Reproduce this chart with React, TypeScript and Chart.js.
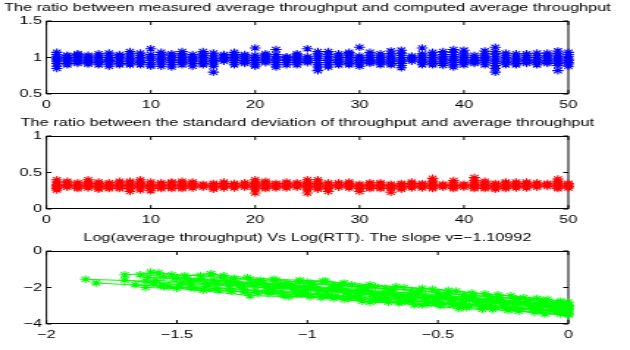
import React, { useEffect, useRef } from "react";
import { Chart, registerables } from "chart.js";

Chart.register(...registerables);

// ---------- data ----------
const runs = [
  1, 2, 3, 4, 5, 6, 7, 8, 9, 10, 11, 12, 13, 14, 15, 16, 17, 18, 19, 20, 21, 22, 23, 24, 25,
  26, 27, 28, 29, 30, 31, 32, 33, 34, 35, 36, 37, 38, 39, 40, 41, 42, 43, 44, 45, 46, 47, 48, 49, 50,
];

const measuredRatio: number[][] = [
  [0.85, 0.88, 0.92, 0.95, 0.97, 0.99, 1.01, 1.04, 1.07],
  [0.9, 0.92, 0.95, 0.97, 0.99, 1.0, 1.02, 1.03],
  [0.92, 0.94, 0.96, 0.98, 1.0, 1.02, 1.04, 1.05],
  [0.91, 0.93, 0.95, 0.97, 0.99, 1.01, 1.03],
  [0.9, 0.93, 0.95, 0.97, 1.0, 1.02, 1.05],
  [0.88, 0.91, 0.94, 0.96, 0.98, 1.0, 1.03, 1.06],
  [0.9, 0.92, 0.95, 0.98, 1.0, 1.02, 1.04],
  [0.9, 0.92, 0.95, 0.97, 0.99, 1.02, 1.05, 1.08],
  [0.9, 0.93, 0.95, 0.98, 1.0, 1.03, 1.06],
  [0.88, 0.9, 0.93, 0.96, 0.99, 1.01, 1.04, 1.12],
  [0.88, 0.91, 0.94, 0.97, 0.99, 1.02, 1.04, 1.07],
  [0.87, 0.9, 0.93, 0.96, 0.98, 1.0, 1.03, 1.05],
  [0.9, 0.93, 0.95, 0.97, 1.0, 1.02, 1.05, 1.08],
  [0.88, 0.92, 0.95, 0.97, 0.99, 1.01, 1.04],
  [0.9, 0.92, 0.95, 0.98, 1.0, 1.03, 1.05, 1.08],
  [0.8, 0.88, 0.91, 0.94, 0.96, 0.99, 1.02, 1.06],
  [0.95, 0.97, 0.99, 1.0, 1.02, 1.04],
  [0.9, 0.93, 0.96, 0.98, 1.0, 1.02, 1.04, 1.07],
  [0.92, 0.94, 0.96, 0.99, 1.01, 1.02, 1.04],
  [0.88, 0.9, 0.93, 0.96, 0.98, 1.0, 1.03, 1.13],
  [0.93, 0.95, 0.97, 0.99, 1.01, 1.03, 1.05],
  [0.87, 0.9, 0.93, 0.96, 0.98, 1.01, 1.04, 1.11],
  [0.9, 0.93, 0.96, 0.98, 1.0, 1.01],
  [0.9, 0.93, 0.95, 0.97, 0.99, 1.01, 1.03, 1.05],
  [0.93, 0.95, 0.97, 0.99, 1.01, 1.12],
  [0.82, 0.87, 0.9, 0.93, 0.96, 0.99, 1.02, 1.05, 1.08],
  [0.87, 0.9, 0.93, 0.96, 0.98, 1.01, 1.04, 1.08],
  [0.9, 0.93, 0.95, 0.97, 1.0, 1.02, 1.05],
  [0.9, 0.92, 0.95, 0.98, 1.0, 1.03, 1.05, 1.07],
  [0.88, 0.91, 0.93, 0.96, 0.98, 1.0, 1.02, 1.14],
  [0.92, 0.94, 0.96, 0.98, 1.0, 1.03, 1.07],
  [0.9, 0.93, 0.95, 0.97, 1.0, 1.02, 1.05],
  [0.9, 0.92, 0.95, 0.97, 0.99, 1.02, 1.05, 1.09],
  [0.86, 0.89, 0.92, 0.95, 0.97, 1.0, 1.03, 1.06, 1.1],
  [0.95, 0.97, 0.99, 1.0, 1.02],
  [0.9, 0.93, 0.95, 0.97, 1.0, 1.02, 1.05, 1.13],
  [0.9, 0.92, 0.95, 0.98, 1.0, 1.03, 1.07],
  [0.89, 0.92, 0.94, 0.97, 0.99, 1.01, 1.04, 1.08],
  [0.87, 0.9, 0.93, 0.96, 0.98, 1.01, 1.04, 1.07, 1.11],
  [0.9, 0.93, 0.95, 0.97, 1.0, 1.02, 1.05, 1.1],
  [0.92, 0.94, 0.96, 0.98, 1.0, 1.03],
  [0.9, 0.93, 0.96, 0.98, 1.0, 1.02, 1.05, 1.09],
  [0.8, 0.85, 0.89, 0.92, 0.95, 0.98, 1.01, 1.05, 1.08, 1.14],
  [0.9, 0.93, 0.95, 0.98, 1.0, 1.03, 1.06],
  [0.9, 0.92, 0.95, 0.97, 0.99, 1.02, 1.05],
  [0.92, 0.94, 0.96, 0.98, 1.0, 1.03, 1.05],
  [0.9, 0.93, 0.95, 0.97, 1.0, 1.02, 1.06],
  [0.92, 0.94, 0.96, 0.99, 1.01, 1.03, 1.06],
  [0.82, 0.89, 0.92, 0.94, 0.97, 0.99, 1.02, 1.05, 1.09],
  [0.88, 0.91, 0.93, 0.96, 0.98, 1.01, 1.04, 1.07],
];

const stdRatio: number[][] = [
  [0.26, 0.28, 0.3, 0.32, 0.34, 0.37, 0.4],
  [0.3, 0.32, 0.34, 0.36, 0.38],
  [0.28, 0.3, 0.32, 0.34, 0.36],
  [0.29, 0.31, 0.33, 0.35, 0.37, 0.4],
  [0.27, 0.29, 0.31, 0.33, 0.35, 0.37],
  [0.28, 0.3, 0.32, 0.34, 0.36],
  [0.28, 0.3, 0.32, 0.34, 0.36, 0.38],
  [0.24, 0.28, 0.3, 0.32, 0.34, 0.36, 0.38],
  [0.26, 0.29, 0.31, 0.33, 0.35, 0.37, 0.4],
  [0.25, 0.28, 0.3, 0.32, 0.34, 0.37],
  [0.28, 0.3, 0.32, 0.34, 0.36],
  [0.28, 0.3, 0.32, 0.34, 0.36, 0.37],
  [0.28, 0.3, 0.32, 0.34, 0.36, 0.38],
  [0.29, 0.31, 0.33, 0.35, 0.37],
  [0.3, 0.32, 0.34],
  [0.27, 0.29, 0.31, 0.33, 0.35],
  [0.29, 0.31, 0.33, 0.35, 0.37],
  [0.29, 0.31, 0.33, 0.35],
  [0.3, 0.32, 0.34, 0.36],
  [0.22, 0.27, 0.29, 0.31, 0.33, 0.35, 0.37, 0.4],
  [0.28, 0.3, 0.32, 0.34, 0.36, 0.38],
  [0.29, 0.31, 0.33, 0.35],
  [0.29, 0.31, 0.33, 0.35, 0.37],
  [0.3, 0.32, 0.34, 0.36],
  [0.22, 0.27, 0.29, 0.31, 0.33, 0.35, 0.37, 0.4],
  [0.27, 0.29, 0.31, 0.33, 0.35, 0.37, 0.4],
  [0.24, 0.28, 0.3, 0.32, 0.34, 0.36],
  [0.3, 0.32, 0.34, 0.36],
  [0.29, 0.31, 0.33, 0.35, 0.37],
  [0.24, 0.28, 0.3, 0.32, 0.34],
  [0.28, 0.3, 0.32, 0.34, 0.36],
  [0.28, 0.3, 0.32, 0.34, 0.36],
  [0.23, 0.28, 0.3, 0.32, 0.34],
  [0.27, 0.29, 0.31, 0.33, 0.35],
  [0.29, 0.31, 0.33, 0.35, 0.37],
  [0.29, 0.31, 0.33, 0.35],
  [0.28, 0.3, 0.32, 0.34, 0.36, 0.38, 0.42],
  [0.3, 0.32, 0.34],
  [0.28, 0.3, 0.32, 0.34, 0.36, 0.39],
  [0.3, 0.32, 0.34],
  [0.28, 0.3, 0.32, 0.34, 0.36, 0.39, 0.43],
  [0.28, 0.3, 0.32, 0.34, 0.36, 0.38],
  [0.27, 0.29, 0.31, 0.33, 0.35],
  [0.28, 0.3, 0.32, 0.34, 0.36, 0.37],
  [0.29, 0.31, 0.33, 0.35, 0.37],
  [0.29, 0.31, 0.33, 0.35, 0.37],
  [0.3, 0.32, 0.34, 0.36],
  [0.31, 0.33, 0.35],
  [0.28, 0.3, 0.32, 0.34, 0.36, 0.38, 0.41],
  [0.29, 0.31, 0.33, 0.35],
];

// log(RTT) per series (x) and log(average throughput) per series (y)
const logRtt: number[][] = [
  [-1.6, -1.52, -1.41, -1.33, -1.22, -1.12, -1.03, -0.94, -0.83, -0.74, -0.63, -0.52, -0.43, -0.32, -0.22, -0.12, -0.03],
  [-1.64, -1.55, -1.46, -1.36, -1.27, -1.17, -1.06, -0.97, -0.87, -0.77, -0.68, -0.58, -0.47, -0.37, -0.27, -0.16, -0.05, 0],
  [-1.62, -1.5, -1.4, -1.29, -1.19, -1.09, -0.99, -0.9, -0.79, -0.69, -0.59, -0.49, -0.39, -0.29, -0.19, -0.09, 0],
  [-1.58, -1.48, -1.38, -1.26, -1.16, -1.05, -0.96, -0.85, -0.75, -0.66, -0.55, -0.45, -0.35, -0.25, -0.14, -0.06, 0],
  [-1.66, -1.56, -1.45, -1.35, -1.24, -1.14, -1.02, -0.92, -0.82, -0.72, -0.62, -0.51, -0.41, -0.31, -0.21, -0.11, -0.02],
  [-1.61, -1.51, -1.42, -1.31, -1.21, -1.11, -1.01, -0.91, -0.81, -0.71, -0.61, -0.5, -0.4, -0.3, -0.2, -0.1, -0.01],
  [-1.7, -1.57, -1.47, -1.37, -1.28, -1.18, -1.08, -0.98, -0.88, -0.78, -0.67, -0.57, -0.46, -0.36, -0.26, -0.15, -0.04],
  [-1.7, -1.59, -1.49, -1.39, -1.3, -1.2, -1.1, -1.0, -0.89, -0.8, -0.7, -0.6, -0.49, -0.38, -0.28, -0.18, -0.07, 0],
  [-1.85, -1.62, -1.45, -1.25, -1.13, -1.04, -0.93, -0.84, -0.73, -0.64, -0.53, -0.44, -0.34, -0.24, -0.13, -0.04],
  [-1.81, -1.55, -1.22, -1.07, -0.95, -0.86, -0.76, -0.65, -0.56, -0.42, -0.33, -0.23, -0.13, -0.03],
  [-1.37, -1.32, -1.23, -1.13, -1.03, -0.93, -0.86, -0.76, -0.66, -0.56, -0.46, -0.37, -0.27, -0.17, -0.08, 0],
  [-1.53, -1.43, -1.34, -1.24, -1.15, -1.04, -0.94, -0.84, -0.74, -0.64, -0.54, -0.44, -0.33, -0.24, -0.14, -0.05, 0],
  [-1.5, -1.4, -1.3, -1.2, -1.1, -1.0, -0.9, -0.8, -0.7, -0.6, -0.5, -0.4, -0.3, -0.2, -0.1, 0],
  [-1.35, -1.25, -1.15, -1.05, -0.95, -0.85, -0.75, -0.65, -0.55, -0.45, -0.35, -0.25, -0.15, -0.05, 0],
  [-1.2, -1.08, -0.98, -0.88, -0.78, -0.68, -0.58, -0.48, -0.38, -0.28, -0.18, -0.08, 0],
  [-1.15, -1.02, -0.92, -0.82, -0.72, -0.62, -0.52, -0.42, -0.32, -0.22, -0.12, -0.02],
  [-1.0, -0.9, -0.8, -0.7, -0.6, -0.5, -0.4, -0.3, -0.2, -0.1, -0.03, 0],
  [-0.8, -0.7, -0.6, -0.5, -0.4, -0.3, -0.2, -0.1, -0.04, 0],
  [-1.45, -1.3, -1.15, -1.0, -0.85, -0.7, -0.55, -0.4, -0.25, -0.1, 0],
];

const logThroughput: number[][] = [
  [-1.15, -1.3, -1.35, -1.45, -1.55, -1.6, -1.7, -1.65, -1.85, -1.95, -2.0, -2.1, -2.2, -2.35, -2.45, -2.6, -2.75],
  [-1.3, -1.4, -1.5, -1.6, -1.7, -1.75, -1.85, -1.95, -2.05, -2.15, -2.25, -2.3, -2.45, -2.55, -2.65, -2.8, -2.9, -3.0],
  [-2.0, -2.05, -2.15, -2.2, -2.3, -2.45, -2.5, -2.6, -2.75, -2.8, -2.95, -3.0, -3.1, -3.2, -3.3, -3.45, -3.5],
  [-1.6, -1.7, -1.8, -1.9, -2.0, -2.1, -2.2, -2.3, -2.4, -2.5, -2.6, -2.7, -2.8, -2.9, -3.0, -3.1, -3.2],
  [-1.85, -1.9, -2.0, -2.05, -2.15, -2.25, -2.35, -2.45, -2.55, -2.6, -2.7, -2.85, -2.95, -3.05, -3.15, -3.25, -3.35],
  [-1.45, -1.5, -1.6, -1.7, -1.8, -1.9, -2.0, -2.05, -2.2, -2.3, -2.4, -2.5, -2.6, -2.7, -2.85, -2.95, -3.05],
  [-1.3, -1.2, -1.35, -1.25, -1.5, -1.6, -1.75, -1.8, -1.9, -2.0, -2.1, -2.2, -2.35, -2.45, -2.55, -2.7, -2.85],
  [-1.6, -1.75, -1.85, -1.95, -2.05, -2.15, -2.25, -2.35, -2.45, -2.55, -2.65, -2.75, -2.85, -2.95, -3.05, -3.15, -3.25, -3.3],
  [-1.55, -1.65, -1.8, -1.95, -2.05, -2.1, -2.2, -2.3, -2.4, -2.45, -2.55, -2.65, -2.75, -2.85, -2.95, -3.05],
  [-1.75, -1.95, -2.45, -2.5, -2.55, -2.65, -2.8, -2.85, -2.95, -3.15, -3.2, -3.25, -3.35, -3.45],
  [-1.25, -1.35, -1.45, -1.55, -1.6, -1.65, -1.75, -1.85, -1.95, -2.05, -2.15, -2.3, -2.4, -2.55, -2.65, -2.8],
  [-1.95, -2.05, -2.15, -2.25, -2.3, -2.4, -2.5, -2.6, -2.7, -2.8, -2.9, -2.95, -3.05, -3.15, -3.2, -3.3, -3.4],
  [-1.45, -1.55, -1.65, -1.75, -1.85, -1.95, -2.1, -2.2, -2.3, -2.4, -2.5, -2.6, -2.7, -2.8, -2.9, -3.05],
  [-1.75, -1.85, -1.95, -2.05, -2.15, -2.25, -2.35, -2.45, -2.55, -2.65, -2.75, -2.85, -2.95, -3.05, -3.15],
  [-1.8, -1.9, -2.0, -2.1, -2.2, -2.3, -2.45, -2.55, -2.65, -2.75, -2.85, -2.95, -3.05],
  [-2.15, -2.25, -2.4, -2.5, -2.65, -2.7, -2.8, -2.9, -3.0, -3.1, -3.2, -3.3],
  [-1.7, -1.85, -1.95, -2.05, -2.15, -2.25, -2.4, -2.5, -2.6, -2.7, -2.85, -2.95],
  [-2.45, -2.55, -2.65, -2.75, -2.9, -3.0, -3.1, -3.2, -3.3, -3.45],
  [-1.65, -1.8, -1.9, -2.05, -2.2, -2.3, -2.45, -2.6, -2.75, -2.85, -3.0],
];

const titles = [
  "The ratio between measured average throughput and computed average throughput",
  "The ratio between the standard deviation of throughput and average throughput",
  "Log(average throughput) Vs Log(RTT). The slope v=\u22121.10992",
];

const xTicksRuns = [0, 10, 20, 30, 40, 50];
const xLabelsRuns = ["0", "10", "20", "30", "40", "50"];
const yTicks1 = [0.5, 1, 1.5];
const yLabels1 = ["0.5", "1", "1.5"];
const yTicks2 = [0, 0.5, 1];
const yLabels2 = ["0", "0.5", "1"];
const xTicks3 = [-2, -1.5, -1, -0.5, 0];
const xLabels3 = ["\u22122", "\u22121.5", "\u22121", "\u22120.5", "0"];
const yTicks3 = [-4, -2, 0];
const yLabels3 = ["\u22124", "\u22122", "0"];

// ---------- layout ----------
const CANVAS_W = 429; // internal width, stretched to 630 display px
const DISPLAY_W = 630;
const CANVAS_H = 115;
const FONT_FAMILY = '"Liberation Sans", Arial, Helvetica, sans-serif';
const FONT_SIZE = 11.1;

const matlabPlugin = {
  id: "matlabAxes",
  beforeDatasetsDraw(chart: any) {
    const { ctx, chartArea } = chart;
    const { left, right, top, bottom } = chartArea;
    const xs = chart.scales.x;
    const ys = chart.scales.y;
    ctx.save();
    ctx.strokeStyle = "#000";
    ctx.lineWidth = 1;
    ctx.beginPath();
    ctx.rect(left, top + 0.5, right - left, bottom - top - 1);
    ctx.stroke();
    ctx.beginPath();
    for (const t of xs.ticks) {
      const px = xs.getPixelForValue(t.value);
      ctx.moveTo(px, bottom);
      ctx.lineTo(px, bottom - 4);
      ctx.moveTo(px, top);
      ctx.lineTo(px, top + 4);
    }
    for (const t of ys.ticks) {
      const py = ys.getPixelForValue(t.value);
      ctx.moveTo(left, py);
      ctx.lineTo(left + 3.5, py);
      ctx.moveTo(right, py);
      ctx.lineTo(right - 3.5, py);
    }
    ctx.stroke();
    ctx.restore();
  },
  afterDraw(chart: any, _args: any, opts: any) {
    const { ctx, chartArea } = chart;
    ctx.save();
    ctx.fillStyle = "#000";
    ctx.font = `${FONT_SIZE}px ${FONT_FAMILY}`;
    ctx.textAlign = "center";
    ctx.textBaseline = "middle";
    ctx.fillText(opts.text || "", (chartArea.left + chartArea.right) / 2, chartArea.top - 13);
    ctx.restore();
  },
};

function makeConfig(p: {
  datasets: any[];
  xMin: number;
  xMax: number;
  xTicks: number[];
  xLabels: string[];
  yMin: number;
  yMax: number;
  yTicks: number[];
  yLabels: string[];
  title: string;
}) {
  const tickFont = { family: FONT_FAMILY, size: FONT_SIZE };
  return {
    type: "scatter" as const,
    data: { datasets: p.datasets },
    plugins: [matlabPlugin],
    options: {
      responsive: false,
      devicePixelRatio: 1,
      animation: false,
      events: [],
      layout: { padding: { top: 21, right: 42, bottom: 0, left: 0 } },
      plugins: {
        legend: { display: false },
        tooltip: { enabled: false },
        title: { display: false },
        matlabAxes: { text: p.title },
      },
      scales: {
        x: {
          type: "linear",
          min: p.xMin,
          max: p.xMax,
          grid: { display: false, drawTicks: false },
          border: { display: false },
          afterBuildTicks: (s: any) => {
            s.ticks = p.xTicks.map((v) => ({ value: v }));
          },
          afterFit: (s: any) => {
            s.height = 21;
          },
          ticks: {
            autoSkip: false,
            maxRotation: 0,
            padding: 4,
            color: "#000",
            font: tickFont,
            callback: (_v: any, i: number) => p.xLabels[i],
          },
        },
        y: {
          type: "linear",
          min: p.yMin,
          max: p.yMax,
          grid: { display: false, drawTicks: false },
          border: { display: false },
          afterBuildTicks: (s: any) => {
            s.ticks = p.yTicks.map((v) => ({ value: v }));
          },
          afterFit: (s: any) => {
            s.width = 31.6;
          },
          ticks: {
            autoSkip: false,
            padding: 3,
            color: "#000",
            font: tickFont,
            callback: (_v: any, i: number) => p.yLabels[i],
          },
        },
      },
    },
  };
}

function markerDataset(points: { x: number; y: number }[], color: string, showLine: boolean) {
  return {
    data: points,
    showLine,
    borderColor: color,
    backgroundColor: color,
    borderWidth: 1,
    pointStyle: "star",
    pointRadius: 3.8,
    pointBorderColor: color,
    pointBorderWidth: 1.1,
    pointHoverRadius: 3.8,
    clip: false,
  };
}

function columnPoints(values: number[][]) {
  const pts: { x: number; y: number }[] = [];
  values.forEach((vals, i) => vals.forEach((v) => pts.push({ x: runs[i], y: v })));
  return pts;
}

function ChartCanvas({ config, top }: { config: any; top: number }) {
  const ref = useRef<HTMLCanvasElement | null>(null);
  useEffect(() => {
    if (!ref.current) return;
    const chart = new Chart(ref.current, config);
    return () => chart.destroy();
  }, [config]);
  return (
    <canvas
      ref={ref}
      width={CANVAS_W}
      height={CANVAS_H}
      style={{
        position: "absolute",
        left: 0,
        top,
        width: DISPLAY_W,
        height: CANVAS_H,
      }}
    />
  );
}

const config1 = makeConfig({
  datasets: [markerDataset(columnPoints(measuredRatio), "#0000ff", false)],
  xMin: 0,
  xMax: 50,
  xTicks: xTicksRuns,
  xLabels: xLabelsRuns,
  yMin: 0.5,
  yMax: 1.5,
  yTicks: yTicks1,
  yLabels: yLabels1,
  title: titles[0],
});

const config2 = makeConfig({
  datasets: [markerDataset(columnPoints(stdRatio), "#ff0000", false)],
  xMin: 0,
  xMax: 50,
  xTicks: xTicksRuns,
  xLabels: xLabelsRuns,
  yMin: 0,
  yMax: 1,
  yTicks: yTicks2,
  yLabels: yLabels2,
  title: titles[1],
});

const config3 = makeConfig({
  datasets: logRtt.map((xs, s) =>
    markerDataset(
      xs.map((x, i) => ({ x, y: logThroughput[s][i] })),
      "#00ff00",
      true
    )
  ),
  xMin: -2,
  xMax: 0,
  xTicks: xTicks3,
  xLabels: xLabels3,
  yMin: -4,
  yMax: 0,
  yTicks: yTicks3,
  yLabels: yLabels3,
  title: titles[2],
});

export default function App() {
  return (
    <div
      style={{
        position: "absolute",
        left: 0,
        top: 0,
        width: 630,
        height: 350,
        background: "#fff",
        overflow: "hidden",
      }}
    >
      <ChartCanvas config={config1} top={0} />
      <ChartCanvas config={config2} top={115} />
      <ChartCanvas config={config3} top={230} />
    </div>
  );
}
